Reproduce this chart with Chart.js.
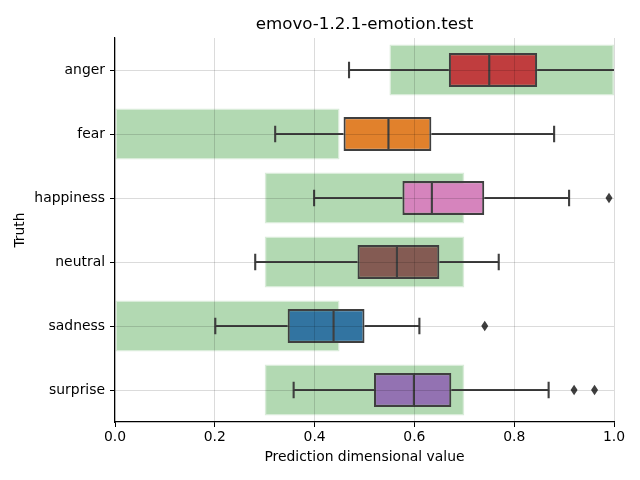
<!DOCTYPE html>
<html><head><meta charset="utf-8">
<script src="https://cdn.jsdelivr.net/npm/chart.js@4/dist/chart.umd.min.js"></script>
<style>html,body{margin:0;padding:0;background:#fff}#wrap{width:640px;height:480px}</style>
</head><body><div id="wrap"><canvas id="c" width="640" height="480"></canvas></div>
<script>
const categories = ['anger','fear','happiness','neutral','sadness','surprise'];
const rangeLow  = [0.55, 0.0, 0.3, 0.3, 0.0, 0.3];
const rangeHigh = [1.0, 0.45, 0.7, 0.7, 0.45, 0.7];
const whiskerLow = [0.469, 0.321, 0.399, 0.281, 0.201, 0.358];
const q1         = [0.669, 0.458, 0.576, 0.486, 0.346, 0.519];
const median     = [0.750, 0.548, 0.635, 0.565, 0.438, 0.599];
const q3         = [0.846, 0.634, 0.740, 0.650, 0.500, 0.674];
const whiskerHigh= [1.01, 0.880, 0.910, 0.769, 0.610, 0.869];
const outliers   = [[], [], [0.99], [], [0.741], [0.920, 0.961]];
const boxColors = ['#c03d3e','#e1812c','#d684bd','#845b53','#3274a1','#9372b2'];
const xTicks = [0, 0.2, 0.4, 0.6, 0.8, 1.0];
const titleText = 'emovo-1.2.1-emotion.test';

const LINE = '#3f3f3f';
const FONT = 'DejaVu Sans';
const FS = 13.9;
const LW = 2.1;

const boxPlugin = {
  id: 'boxExtras',
  afterDatasetsDraw(chart) {
    const ctx = chart.ctx, xs = chart.scales.x, ys = chart.scales.y, a = chart.chartArea;
    const unit = ys.getPixelForValue(1) - ys.getPixelForValue(0);
    ctx.save();
    ctx.beginPath(); ctx.rect(a.left, a.top, a.right - a.left, a.bottom - a.top); ctx.clip();
    ctx.strokeStyle = LINE; ctx.fillStyle = LINE; ctx.lineWidth = LW; ctx.lineCap = 'butt';
    categories.forEach((c, i) => {
      const y = ys.getPixelForValue(i);
      const bh = unit * 0.255 - LW / 2, ch = unit * 0.13;
      const px = v => xs.getPixelForValue(v);
      ctx.beginPath();
      ctx.moveTo(px(whiskerLow[i]), y); ctx.lineTo(px(q1[i]), y);
      ctx.moveTo(px(q3[i]), y); ctx.lineTo(px(whiskerHigh[i]), y);
      ctx.moveTo(px(whiskerLow[i]), y - ch); ctx.lineTo(px(whiskerLow[i]), y + ch);
      ctx.moveTo(px(whiskerHigh[i]), y - ch); ctx.lineTo(px(whiskerHigh[i]), y + ch);
      ctx.moveTo(px(median[i]), y - bh); ctx.lineTo(px(median[i]), y + bh);
      ctx.stroke();
      outliers[i].forEach(v => {
        const x = px(v);
        ctx.beginPath();
        ctx.moveTo(x, y - 5.3); ctx.lineTo(x + 3.5, y); ctx.lineTo(x, y + 5.3); ctx.lineTo(x - 3.5, y);
        ctx.closePath(); ctx.fill();
      });
    });
    ctx.restore();
    ctx.save();
    ctx.fillStyle = '#000';
    ctx.font = '16.7px "' + FONT + '"';
    ctx.textAlign = 'center'; ctx.textBaseline = 'alphabetic';
    ctx.fillText(titleText, (a.left + a.right) / 2, 29);
    ctx.restore();
  }
};

new Chart(document.getElementById('c'), {
  type: 'bar',
  data: {
    labels: categories,
    datasets: [
      {
        label: 'range',
        data: categories.map((c, i) => [rangeLow[i], rangeHigh[i]]),
        backgroundColor: 'rgba(0,128,0,0.3)',
        borderColor: 'rgba(0,128,0,0.15)',
        borderWidth: 1.5,
        borderSkipped: false,
        grouped: false,
        categoryPercentage: 1.0,
        barPercentage: 0.8,
        order: 2
      },
      {
        label: 'box',
        data: categories.map((c, i) => [q1[i], q3[i]]),
        backgroundColor: boxColors,
        borderColor: LINE,
        borderWidth: LW,
        borderSkipped: false,
        grouped: false,
        categoryPercentage: 1.0,
        barPercentage: 0.53,
        order: 1
      }
    ]
  },
  options: {
    indexAxis: 'y',
    responsive: false,
    animation: false,
    layout: { padding: { left: 0, right: 26, top: 38, bottom: 0 } },
    plugins: {
      legend: { display: false },
      tooltip: { enabled: false },
      title: { display: false }
    },
    scales: {
      x: {
        type: 'linear', min: 0, max: 1,
        afterBuildTicks: s => { s.ticks = xTicks.map(v => ({ value: v })); },
        afterFit: s => { s.height = 58; },
        ticks: { color: '#000', font: { family: FONT, size: FS }, padding: 2,
                 callback: v => Number(v).toFixed(1), maxRotation: 0, autoSkip: false },
        grid: { color: 'rgba(0,0,0,0.14)', lineWidth: 1, z: 1, drawTicks: true, tickLength: 5, tickColor: '#000', tickWidth: 1 },
        border: { display: true, color: '#000', width: 1.2, z: 2 },
        title: { display: true, text: 'Prediction dimensional value', color: '#000',
                 font: { family: FONT, size: FS }, padding: { top: 2, bottom: 14 } }
      },
      y: {
        type: 'category', offset: true,
        afterFit: s => { s.width = 115; },
        ticks: { color: '#000', font: { family: FONT, size: FS }, padding: 5 },
        grid: { color: 'rgba(0,0,0,0.14)', lineWidth: 1, z: 1, offset: false, tickLength: 5, tickColor: '#000', tickWidth: 1 },
        border: { display: true, color: '#000', width: 1.2, z: 2 },
        title: { display: true, text: 'Truth', color: '#000',
                 font: { family: FONT, size: FS }, padding: { top: 12, bottom: 0 } }
      }
    }
  },
  plugins: [boxPlugin]
});
</script>
</body></html>
